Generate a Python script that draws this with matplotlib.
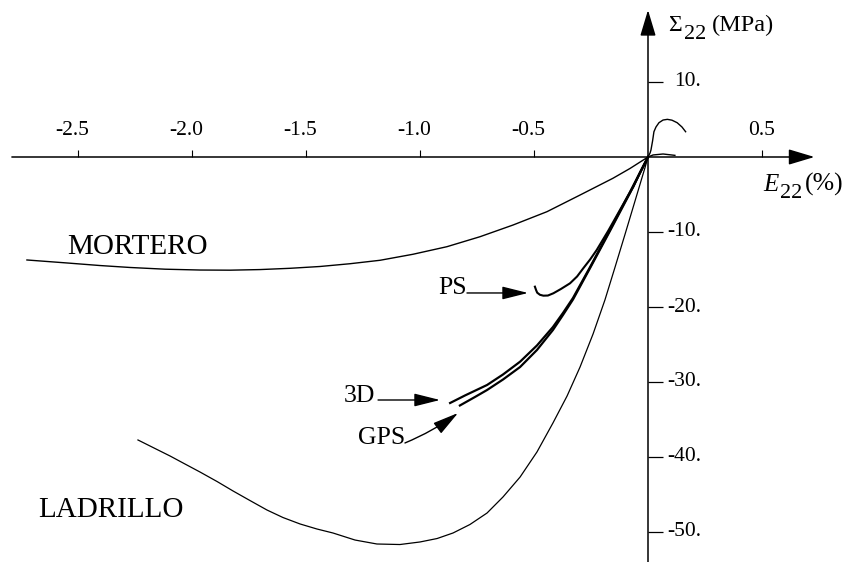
import matplotlib
matplotlib.use("Agg")
import matplotlib.pyplot as plt

plt.rcParams['font.family'] = 'serif'
plt.rcParams['font.serif'] = ['Liberation Serif', 'DejaVu Serif']
plt.rcParams['mathtext.fontset'] = 'custom'
plt.rcParams['mathtext.rm'] = 'Liberation Serif'
plt.rcParams['mathtext.it'] = 'Liberation Serif:italic'

# ---- data (strain E22 in %, stress Sigma22 in MPa) ----
mortero_x = [-2.724, -2.636, -2.548, -2.404, -2.272, -2.118, -1.965, -1.833, -1.702,
             -1.570, -1.439, -1.307, -1.175, -1.031, -0.882, -0.737, -0.592, -0.443,
             -0.298, -0.154, -0.079, 0.0]
mortero_y = [-13.73, -13.93, -14.13, -14.47, -14.73, -14.96, -15.07, -15.09, -15.01,
             -14.84, -14.60, -14.23, -13.77, -12.97, -11.96, -10.63, -9.07, -7.29,
             -5.07, -2.84, -1.53, 0.0]

ladrillo_x = [-2.237, -2.162, -2.096, -2.031, -1.965, -1.890, -1.820, -1.746, -1.671,
              -1.601, -1.526, -1.452, -1.382, -1.285, -1.189, -1.088, -1.000, -0.925,
              -0.855, -0.781, -0.706, -0.636, -0.561, -0.487, -0.417, -0.355, -0.298,
              -0.241, -0.189, -0.145, -0.101, -0.057, -0.013, 0.0]
ladrillo_y = [-37.73, -38.87, -39.87, -40.93, -42.00, -43.27, -44.53, -45.80, -47.07,
              -48.07, -48.93, -49.60, -50.13, -51.07, -51.60, -51.67, -51.33, -50.87,
              -50.13, -49.00, -47.47, -45.33, -42.67, -39.33, -35.47, -31.87, -28.00,
              -23.60, -19.07, -14.73, -10.33, -5.87, -1.40, 0.0]

d3_x = [-0.868, -0.803, -0.706, -0.636, -0.561, -0.487, -0.417, -0.373, -0.329,
        -0.254, -0.167, -0.079, 0.0]
d3_y = [-32.80, -31.80, -30.40, -29.00, -27.29, -25.13, -22.67, -20.80, -18.80,
        -14.67, -9.73, -4.67, 0.0]

gps_x = [-0.825, -0.759, -0.706, -0.636, -0.561, -0.487, -0.417, -0.373, -0.329,
         -0.254, -0.167, -0.079, 0.0]
gps_y = [-33.13, -32.00, -31.07, -29.67, -28.00, -25.73, -23.07, -21.07, -19.00,
         -14.80, -9.87, -4.80, 0.0]

ps_x = [-0.496, -0.491, -0.486, -0.474, -0.459, -0.439, -0.415, -0.382, -0.342,
        -0.311, -0.284, -0.254, -0.225, -0.175, -0.123, -0.092, -0.064, -0.035, 0.0]
ps_y = [-17.29, -17.73, -18.09, -18.37, -18.49, -18.47, -18.17, -17.60, -16.84,
        -15.93, -14.84, -13.67, -12.40, -9.87, -7.07, -5.40, -3.96, -2.07, 0.0]

tens_x = [0.0, 0.009, 0.013, 0.020, 0.026, 0.035, 0.048, 0.066, 0.085, 0.105,
          0.128, 0.149, 0.165]
tens_y = [0.0, 0.53, 0.93, 2.13, 3.37, 4.00, 4.57, 4.93, 5.02, 4.91, 4.57, 4.00, 3.37]

tens2_x = [0.0, 0.022, 0.066, 0.118]
tens2_y = [0.0, 0.27, 0.40, 0.22]

xticks = [-2.5, -2.0, -1.5, -1.0, -0.5, 0.5]
xtick_labels = ['-2.5', '-2.0', '-1.5', '-1.0', '-0.5', '0.5']
yticks = [10, -10, -20, -30, -40, -50]
ytick_labels = ['10.', '-10.', '-20.', '-30.', '-40.', '-50.']

# ---- figure ----
fig = plt.figure(figsize=(8.48, 5.62), dpi=100)
ax = fig.add_axes([0, 0, 1, 1])
ax.set_xlim(-648 / 228, 200 / 228)
ax.set_ylim(-405 / 7.5, 157 / 7.5)
ax.axis('off')

k = 'black'
# axes lines with arrows
ax.annotate('', xy=(0.73, 0), xytext=(-2.79, 0),
            arrowprops=dict(arrowstyle='-|>,head_length=1.0,head_width=0.3',
                            mutation_scale=16, lw=1.1, color=k, shrinkA=0, shrinkB=0))
ax.annotate('', xy=(0, 19.6), xytext=(0, -54.5),
            arrowprops=dict(arrowstyle='-|>,head_length=1.0,head_width=0.3',
                            mutation_scale=16, lw=1.1, color=k, shrinkA=0, shrinkB=0))

# ticks
ax.vlines(xticks, 0, 0.9, color=k, lw=0.8)
ax.hlines(yticks, 0, 0.066, color=k, lw=0.9)

for v, s in zip(xticks, xtick_labels):
    dx = -0.025 if v < 0 else 0.0
    ax.text(v + dx, 3.47, s, ha='center', va='center', fontsize=15.5)
for v, s in zip(yticks, ytick_labels):
    ax.text(0.232, v, s, ha='right', va='center', fontsize=15.5)

# axis titles
ax.text(0.088, 17.5, '\u03a3', ha='left', va='center', fontsize=17)
ax.text(0.160, 16.3, '22', ha='left', va='center', fontsize=16)
ax.text(0.281, 17.5, '(MPa)', ha='left', va='center', fontsize=17.5)
ax.text(0.504, -3.7, 'E', ha='left', va='center', fontsize=18, style='italic')
ax.text(0.580, -4.9, '22', ha='left', va='center', fontsize=16)
ax.text(0.688, -3.6, '(%)', ha='left', va='center', fontsize=18.5)

# curves
ax.plot(mortero_x, mortero_y, color=k, lw=1.0)
ax.plot(ladrillo_x, ladrillo_y, color=k, lw=0.9)
ax.plot(d3_x, d3_y, color=k, lw=1.6)
ax.plot(gps_x, gps_y, color=k, lw=1.6)
ax.plot(ps_x, ps_y, color=k, lw=1.5)
ax.plot(tens_x, tens_y, color=k, lw=1.0)
ax.plot(tens2_x, tens2_y, color=k, lw=1.0)

# curve labels
ax.text(-2.548, -12.0, 'MORTERO', ha='left', va='center', fontsize=21)
ax.text(-2.675, -47.1, 'LADRILLO', ha='left', va='center', fontsize=21)
ax.text(-0.794, -17.5, 'PS', ha='right', va='center', fontsize=18.5)
ax.text(-1.197, -31.9, '3D', ha='right', va='center', fontsize=18.5)
ax.text(-1.066, -37.5, 'GPS', ha='right', va='center', fontsize=18.5)

aprops = dict(arrowstyle='-|>,head_length=1.0,head_width=0.25',
              mutation_scale=16, lw=1.0, color=k, shrinkA=0, shrinkB=0)
ax.annotate('', xy=(-0.526, -18.13), xytext=(-0.794, -18.13), arrowprops=aprops)
ax.annotate('', xy=(-0.912, -32.4), xytext=(-1.184, -32.4), arrowprops=aprops)
gprops = dict(aprops)
gprops['connectionstyle'] = 'arc3,rad=0.06'
ax.annotate('', xy=(-0.833, -34.13), xytext=(-1.066, -38.13), arrowprops=gprops)

fig.savefig('out.png', dpi=100)
